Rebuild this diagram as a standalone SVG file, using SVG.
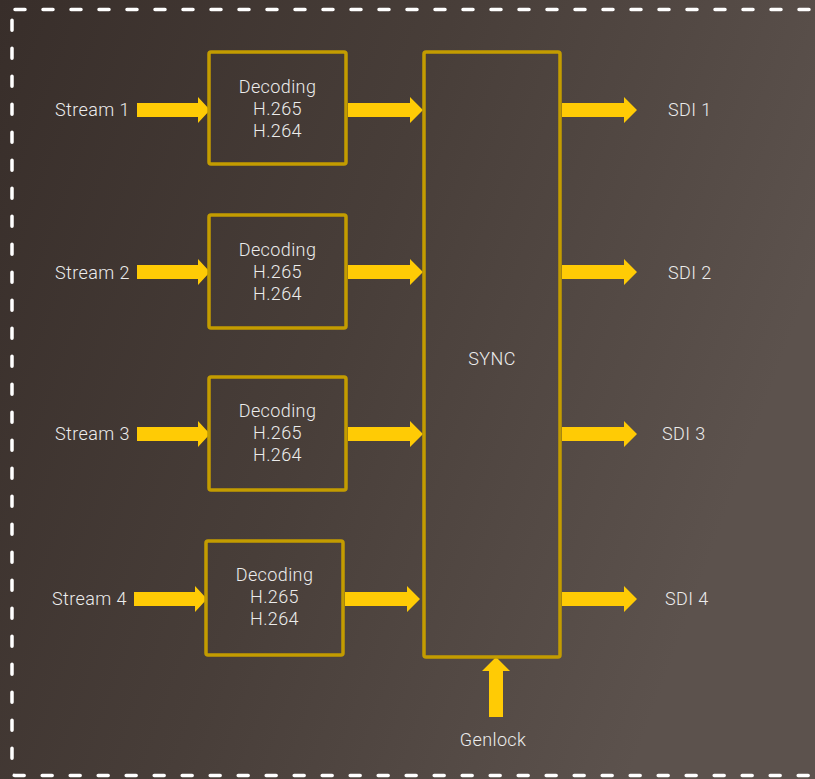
<svg xmlns="http://www.w3.org/2000/svg" width="815" height="779" viewBox="0 0 815 779">
<defs>
<linearGradient id="bg" x1="0" y1="0" x2="1" y2="0.35">
<stop offset="0" stop-color="#382e2a"/>
<stop offset="0.5" stop-color="#483e39"/>
<stop offset="1" stop-color="#5c524d"/>
</linearGradient>
<style>
.box{fill:none;stroke:#c39c00;stroke-width:3.5;stroke-linejoin:round}
.arr{fill:#ffcb05}
.t{font-family:Roboto,"Liberation Sans",sans-serif;font-weight:300;font-size:18px;letter-spacing:0.4px;fill:#ececec}
.c{text-anchor:middle}
</style>
</defs>
<rect width="815" height="779" fill="url(#bg)"/>
<rect x="12" y="9.5" width="830" height="766" fill="none" stroke="#ffffff" stroke-width="3.5" stroke-dasharray="10 18" stroke-linecap="round" rx="3"/>

<g id="connectors">
<polygon class="arr" points="137,103 198,103 198,97 210,110 198,123 198,117 137,117"/>
<polygon class="arr" points="137,265 198,265 198,259 210,272 198,285 198,279 137,279"/>
<polygon class="arr" points="137,427 198,427 198,421 210,434 198,447 198,441 137,441"/>
<polygon class="arr" points="134,592 195,592 195,586 207,599 195,612 195,606 134,606"/>
<polygon class="arr" points="348,103 410,103 410,97 423,110 410,123 410,117 348,117"/>
<polygon class="arr" points="348,265 410,265 410,259 423,272 410,285 410,279 348,279"/>
<polygon class="arr" points="348,427 410,427 410,421 423,434 410,447 410,441 348,441"/>
<polygon class="arr" points="345,592 407,592 407,586 420,599 407,612 407,606 345,606"/>
<polygon class="arr" points="562,103 624,103 624,97 637,110 624,123 624,117 562,117"/>
<polygon class="arr" points="562,265 624,265 624,259 637,272 624,285 624,279 562,279"/>
<polygon class="arr" points="562,427 624,427 624,421 637,434 624,447 624,441 562,441"/>
<polygon class="arr" points="562,592 624,592 624,586 637,599 624,612 624,606 562,606"/>
<polygon class="arr" points="489,717 489,671 482,671 496,657 510,671 503,671 503,717"/>
</g>

<g id="dec1">
<rect class="box" x="209" y="52" width="137" height="112" rx="2"/>
<text class="t c" x="277.5" y="93">Decoding</text>
<text class="t c" x="277.5" y="115">H.265</text>
<text class="t c" x="277.5" y="137">H.264</text>
</g>
<g id="dec2">
<rect class="box" x="209" y="215" width="137" height="113" rx="2"/>
<text class="t c" x="277.5" y="256">Decoding</text>
<text class="t c" x="277.5" y="278">H.265</text>
<text class="t c" x="277.5" y="300">H.264</text>
</g>
<g id="dec3">
<rect class="box" x="209" y="377" width="137" height="113" rx="2"/>
<text class="t c" x="277.5" y="417">Decoding</text>
<text class="t c" x="277.5" y="439">H.265</text>
<text class="t c" x="277.5" y="461">H.264</text>
</g>
<g id="dec4">
<rect class="box" x="206" y="541" width="137" height="114" rx="2"/>
<text class="t c" x="274.5" y="581">Decoding</text>
<text class="t c" x="274.5" y="603">H.265</text>
<text class="t c" x="274.5" y="625">H.264</text>
</g>
<g id="sync">
<rect class="box" x="424" y="52" width="136" height="605" rx="2"/>
<text class="t c" x="492" y="365">SYNC</text>
</g>

<g id="inputs">
<text class="t" x="55" y="116">Stream 1</text>
<text class="t" x="55" y="279">Stream 2</text>
<text class="t" x="55" y="440">Stream 3</text>
<text class="t" x="52" y="605">Stream 4</text>
</g>
<g id="outputs">
<text class="t" x="668" y="116">SDI 1</text>
<text class="t" x="668" y="279">SDI 2</text>
<text class="t" x="662" y="440">SDI 3</text>
<text class="t" x="665" y="605">SDI 4</text>
</g>
<g id="genlock">
<text class="t c" x="493" y="746">Genlock</text>
</g>
</svg>
